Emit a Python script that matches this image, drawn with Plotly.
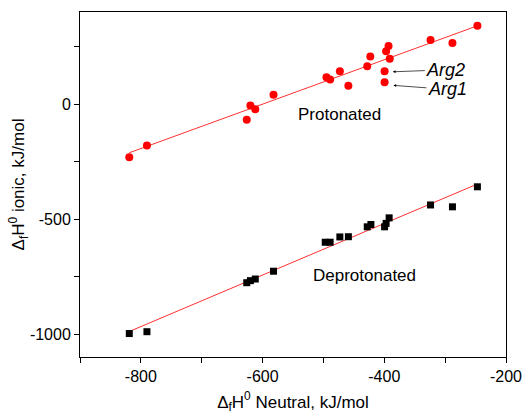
import plotly.graph_objects as go

# Protonated (red circles)
prot_x = [-819, -790, -626, -620, -612, -582, -495, -489, -473, -459, -428, -423,
          -399.5, -399.5, -397, -393, -391, -324, -288, -247]
prot_y = [-232, -180, -69, -7, -23, 40, 116, 106, 142, 79, 164, 206,
          142, 95, 229, 252, 197, 278, 265, 340]

# Deprotonated (black squares)
deprot_x = [-819, -790, -626, -620, -612, -582, -497, -489, -473, -459, -428, -422,
            -399.5, -397, -392, -324, -288, -247]
deprot_y = [-998, -990, -777, -768, -761, -727, -601, -601, -578, -577, -534, -524,
            -534, -519, -495, -439, -447, -360]

# Linear fit lines (endpoints)
fit_prot_x = [-819, -247]
fit_prot_y = [-212, 340]
fit_deprot_x = [-818, -247]
fit_deprot_y = [-988, -348]

x_tick_vals = [-800, -600, -400, -200]
x_tick_text = ["-800", "-600", "-400", "-200"]
x_minor_vals = [-900, -700, -500, -300]
y_tick_vals = [-1000, -500, 0]
y_tick_text = ["-1000", "-500", "0"]
y_minor_vals = [-750, -250, 250]

FONT = "Liberation Sans, Arial, sans-serif"

fig = go.Figure()
fig.add_trace(go.Scatter(x=fit_prot_x, y=fit_prot_y, mode="lines",
                         line=dict(color="#ff3030", width=1), showlegend=False))
fig.add_trace(go.Scatter(x=fit_deprot_x, y=fit_deprot_y, mode="lines",
                         line=dict(color="#ff3030", width=1), showlegend=False))
fig.add_trace(go.Scatter(x=prot_x, y=prot_y, mode="markers",
                         marker=dict(symbol="circle", size=8, color="#ff0000"),
                         showlegend=False))
fig.add_trace(go.Scatter(x=deprot_x, y=deprot_y, mode="markers",
                         marker=dict(symbol="square", size=7, color="#000000"),
                         showlegend=False))

fig.add_annotation(x=-473, y=-45, text="Protonated", showarrow=False,
                   font=dict(size=17, color="black", family=FONT))
fig.add_annotation(x=-433, y=-745, text="Deprotonated", showarrow=False,
                   font=dict(size=17, color="black", family=FONT))
fig.add_annotation(x=-386, y=140, text="<i>Arg2</i>", showarrow=True,
                   ax=53, ay=-2, arrowhead=2, arrowsize=0.8, arrowwidth=0.7,
                   arrowcolor="black",
                   font=dict(size=18, color="black", family=FONT))
fig.add_annotation(x=-385, y=81, text="<i>Arg1</i>", showarrow=True,
                   ax=54, ay=4, arrowhead=2, arrowsize=0.8, arrowwidth=0.7,
                   arrowcolor="black",
                   font=dict(size=18, color="black", family=FONT))

fig.update_xaxes(range=[-900, -200], tickmode="array", tickvals=x_tick_vals,
                 ticktext=x_tick_text, ticks="outside", ticklen=5, tickwidth=1,
                 tickcolor="black",
                 minor=dict(tickmode="array", tickvals=x_minor_vals, ticks="outside",
                            ticklen=5, tickwidth=1, tickcolor="black", showgrid=False),
                 showline=True, linecolor="black", linewidth=1,
                 mirror=True, showgrid=False, zeroline=False, automargin=False,
                 tickfont=dict(size=16, family=FONT, color="black"),
                 title=dict(text="Δ<sub>f</sub>H<sup>0</sup> Neutral, kJ/mol",
                            font=dict(size=17, family=FONT, color="black"),
                            standoff=11))
fig.update_yaxes(range=[-1100, 400], tickmode="array", tickvals=y_tick_vals,
                 ticktext=y_tick_text, ticks="outside", ticklen=5, tickwidth=1,
                 tickcolor="black",
                 minor=dict(tickmode="array", tickvals=y_minor_vals, ticks="outside",
                            ticklen=5, tickwidth=1, tickcolor="black", showgrid=False),
                 showline=True, linecolor="black", linewidth=1,
                 mirror=True, showgrid=False, zeroline=False, automargin=False,
                 tickfont=dict(size=16, family=FONT, color="black"),
                 title=dict(text="Δ<sub>f</sub>H<sup>0</sup> ionic, kJ/mol",
                            font=dict(size=17, family=FONT, color="black"),
                            standoff=0))

fig.update_layout(width=523, height=415, margin=dict(l=80, r=17, t=12, b=58),
                  plot_bgcolor="white", paper_bgcolor="white",
                  font=dict(family=FONT, color="black"))

fig.write_html("out.html")
